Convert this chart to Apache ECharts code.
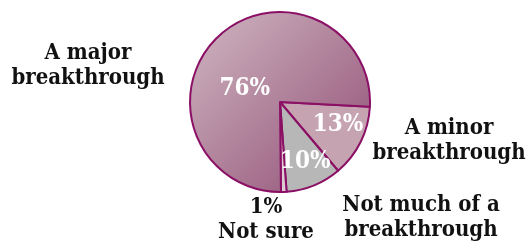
<!DOCTYPE html>
<html>
<head>
<meta charset="utf-8">
<script src="https://cdn.jsdelivr.net/npm/echarts@6/dist/echarts.min.js"></script>
<style>
  html, body { margin: 0; padding: 0; background: #fff; }
  #chart { width: 527px; height: 243px; }
</style>
</head>
<body>
<div id="chart"></div>
<script>
// slice order goes clockwise from just below 3 o'clock
var categories = ["A minor\nbreakthrough", "Not much of a\nbreakthrough", "Not sure", "A major\nbreakthrough"];
var values = [13, 10, 1, 76];

var sliceColors = [
  "#c6a3b1",
  "#b7b7b7",
  "#dccbd2",
  {
    type: "linear", x: 0, y: 0, x2: 1, y2: 1,
    colorStops: [
      { offset: 0, color: "#d0b8c2" },
      { offset: 1, color: "#904c74" }
    ]
  }
];

// outside labels (x, y of text centre)
var labelPos = [[449, 141], [421, 218], [266, 220], [88, 66]];
// nudges for the inside percent labels
var innerShift = [[15, 1], [7, 15], [0, 0], [-2, 21]];

var serif = "'DejaVu Serif Condensed', 'DejaVu Serif', serif";

var chart = echarts.init(document.getElementById("chart"));

var pieData = values.map(function (v, i) {
  return {
    name: categories[i],
    value: v,
    itemStyle: { color: sliceColors[i] },
    label: { show: v > 5 }
  };
});

var graphics = categories.map(function (c, i) {
  var txt = c;
  if (values[i] < 5) txt = values[i] + "%\n" + c;
  return {
    type: "text",
    x: labelPos[i][0],
    y: labelPos[i][1],
    style: {
      text: txt,
      font: "bold 22px " + serif,
      fill: "#111",
      align: "center",
      verticalAlign: "middle",
      lineHeight: 25
    }
  };
});

chart.setOption({
  animation: false,
  graphic: graphics,
  series: [
    {
      type: "pie",
      center: [280, 102],
      radius: [0, 90],
      startAngle: -3,
      clockwise: true,
      minAngle: 0,
      avoidLabelOverlap: false,
      itemStyle: {
        borderColor: "#8a0f65",
        borderWidth: 2
      },
      label: {
        position: "inner",
        formatter: "{c}%",
        color: "#fff",
        fontFamily: serif,
        fontWeight: "bold",
        fontSize: 24
      },
      labelLayout: function (p) {
        var s = innerShift[p.dataIndex];
        return { dx: s[0], dy: s[1] };
      },
      labelLine: { show: false },
      data: pieData
    }
  ]
});
</script>
</body>
</html>
